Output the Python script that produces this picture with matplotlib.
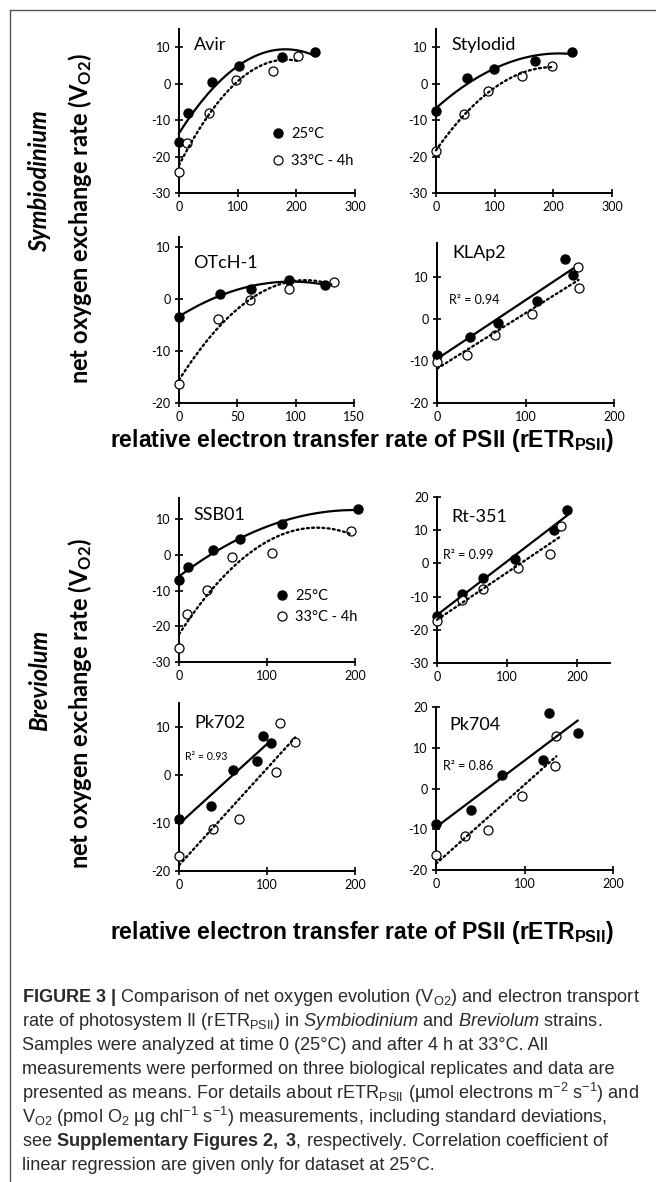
import matplotlib
matplotlib.use("Agg")
import matplotlib.pyplot as plt
import numpy as np
from matplotlib import font_manager
from matplotlib.lines import Line2D

# data (x = rETR, y = V_O2)
strains = ["Avir", "Stylodid", "OTcH-1", "KLAp2", "SSB01", "Rt-351", "Pk702", "Pk704"]
x25 = [[0, 16, 57, 103, 175, 232],
       [0, 53, 99, 168, 231],
       [0, 35, 62, 94, 125],
       [0, 37, 69, 113, 145, 154],
       [0, 10, 39, 69, 117, 203],
       [0, 35, 66, 112, 167, 186],
       [0, 36, 61, 89, 96, 105],
       [0, 39, 75, 121, 128, 160]]
y25 = [[-16.0, -8.0, 0.5, 4.9, 7.2, 8.8],
       [-7.6, 1.6, 4.0, 6.3, 8.8],
       [-3.4, 1.1, 1.9, 3.8, 2.7],
       [-8.6, -4.4, -1.0, 4.3, 14.3, 10.5],
       [-7.1, -3.4, 1.4, 4.6, 8.8, 12.8],
       [-15.8, -9.2, -4.3, 1.2, 10.1, 16.1],
       [-9.1, -6.5, 1.0, 3.0, 8.1, 6.7],
       [-8.8, -5.2, 3.2, 7.0, 18.6, 13.7]]
x33 = [[0, 14, 51, 97, 160, 202],
       [0, 48, 89, 147, 197],
       [0, 33, 61, 94, 133],
       [0, 34, 65, 107, 159, 160],
       [0, 9, 32, 60, 106, 195],
       [0, 35, 65, 115, 161, 177],
       [0, 39, 68, 110, 115, 132],
       [0, 33, 59, 97, 134, 136]]
y33 = [[-24.3, -16.3, -8.1, 1.1, 3.6, 7.6],
       [-18.5, -8.4, -1.9, 2.1, 4.9],
       [-16.4, -3.9, -0.1, 1.9, 3.3],
       [-10.2, -8.6, -3.8, 1.1, 12.3, 7.3],
       [-26.1, -16.5, -9.9, -0.5, 0.6, 6.7],
       [-17.3, -10.9, -7.7, -1.5, 2.9, 11.3],
       [-16.9, -11.3, -9.2, 0.6, 10.8, 6.8],
       [-16.3, -11.6, -10.3, -1.9, 5.4, 12.9]]
fit_order = [2, 2, 2, 1, 2, 1, 1, 1]
r2_text = [None, None, None, "R² = 0.94", None, "R² = 0.99", "R² = 0.93", "R² = 0.86"]
xlims = [300, 300, 150, 200, 200, 247, 200, 200]
xticks = [[0, 100, 200, 300], [0, 100, 200, 300], [0, 50, 100, 150], [0, 100, 200],
          [0, 100, 200], [0, 100, 200], [0, 100, 200], [0, 100, 200]]
ylims = [(-30, 15), (-30, 15), (-20, 12), (-20, 18), (-30, 16), (-30, 20), (-20, 15), (-20, 20)]
legend_labels = ["25°C", "33°C - 4h"]

caption = [
    r"$\mathbf{FIGURE\ 3\ |}$ Comparison of net oxygen evolution (V$_{\mathrm{O2}}$) and electron transport",
    r"rate of photosystem II (rETR$_{\mathrm{PSII}}$) in $\mathit{Symbiodinium}$ and $\mathit{Breviolum}$ strains.",
    r"Samples were analyzed at time 0 (25°C) and after 4 h at 33°C. All",
    r"measurements were performed on three biological replicates and data are",
    r"presented as means. For details about rETR$_{\mathrm{PSII}}$ (µmol electrons m$^{-2}$ s$^{-1}$) and",
    r"V$_{\mathrm{O2}}$ (pmol O$_{\mathrm{2}}$ µg chl$^{-1}$ s$^{-1}$) measurements, including standard deviations,",
    r"see $\mathbf{Supplementary\ Figures\ 2,\ 3}$, respectively. Correlation coefficient of",
    r"linear regression are given only for dataset at 25°C.",
]

names = {f.name for f in font_manager.fontManager.ttflist}
narrow = "Liberation Sans Narrow" in names
cap_font = "Liberation Sans Narrow" if narrow else "Liberation Sans"
cap_size = 15.9 if narrow else 13.1

plt.rcParams["axes.unicode_minus"] = False
plt.rcParams["font.family"] = ["Lato", "DejaVu Sans"]
plt.rcParams["mathtext.fontset"] = "custom"
plt.rcParams["mathtext.rm"] = cap_font
plt.rcParams["mathtext.it"] = cap_font + ":italic"
plt.rcParams["mathtext.bf"] = cap_font + ":bold"

W, H = 656, 1182
fig = plt.figure(figsize=(W / 100, H / 100), dpi=100)


def px(x, y):
    return x / W, 1 - y / H


# axes boxes in pixels: left, right, top, bottom
boxes = [(179, 355, 29, 193), (436, 612, 29, 193),
         (179, 354, 237, 403), (437, 614, 243, 403),
         (179, 355, 498, 662), (437, 610, 497, 663),
         (179, 355, 703, 871), (436, 613, 707, 870)]
title_pos = [(194, 45), (451, 45), (193, 263), (452, 253),
             (193, 515), (451, 517), (194, 723), (449, 725)]
r2_pos = [None, None, None, (449, 300), None, (443, 555), (185, 756), (443, 766)]
r2_size = [0, 0, 0, 9, 0, 9, 7.6, 9]

for i in range(8):
    l, r, t, b = boxes[i]
    ax = fig.add_axes([l / W, 1 - b / H, (r - l) / W, (b - t) / H])
    ax.set_xlim(0, xlims[i])
    ax.set_ylim(*ylims[i])
    for s in ["top", "right"]:
        ax.spines[s].set_visible(False)
    for s in ["left", "bottom"]:
        ax.spines[s].set_linewidth(1.4)
    ax.set_xticks(xticks[i])
    ax.set_yticks(np.arange(ylims[i][0], ylims[i][1] + 0.1, 10))
    ax.tick_params(direction="inout", length=6, width=1.2, labelsize=9, pad=3)
    ax.patch.set_visible(False)

    xa, ya = np.array(x25[i]), np.array(y25[i])
    xb, yb = np.array(x33[i]), np.array(y33[i])
    h1, = ax.plot(xa, ya, "o", ms=6.5, color="black", clip_on=False, zorder=3)
    h2, = ax.plot(xb, yb, "o", ms=6.5, mfc="white", mec="black", mew=0.9, clip_on=False, zorder=3)

    k = fit_order[i]
    ca = np.polyfit(xa, ya, k)
    cb = np.polyfit(xb, yb, k)
    ga = np.linspace(0, xa.max(), 100)
    gb = np.linspace(0, xb.max(), 100)
    ax.plot(ga, np.polyval(ca, ga), "-", color="black", lw=1.6, clip_on=False, zorder=4)
    ax.plot(gb, np.polyval(cb, gb), color="black", lw=1.7, linestyle=(0, (0.8, 1.4)),
            dash_capstyle="round", clip_on=False, zorder=4)

    fig.text(*px(*title_pos[i]), strains[i], fontsize=13, va="center", ha="left")
    if r2_text[i]:
        fig.text(*px(*r2_pos[i]), r2_text[i], fontsize=r2_size[i], va="center", ha="left")

    if i == 0:
        ax.legend([h1, h2], legend_labels, loc="upper left", bbox_to_anchor=(0.49, 0.44),
                  frameon=False, fontsize=10.5, handletextpad=0.4, labelspacing=0.9,
                  handlelength=1.0, borderaxespad=0)
    if i == 4:
        ax.legend([h1, h2], legend_labels, loc="upper left", bbox_to_anchor=(0.51, 0.48),
                  frameon=False, fontsize=10.5, handletextpad=0.4, labelspacing=0.5,
                  handlelength=1.0, borderaxespad=0)

# group labels and axis titles
fig.text(*px(40, 181), "Symbiodinium", rotation=90, fontsize=17, fontstyle="italic",
         fontweight="bold", ha="center", va="center")
fig.text(*px(40, 680), "Breviolum", rotation=90, fontsize=17, fontstyle="italic",
         fontweight="bold", ha="center", va="center")
for yc in [218, 703]:
    fig.text(*px(80, yc), r"net oxygen exchange rate (V$_{\mathregular{O2}}$)", rotation=90,
             fontsize=17, fontweight="bold", ha="center", va="center")
for yc in [440, 932]:
    fig.text(*px(362, yc), r"relative electron transfer rate of PSII (rETR$_{\mathregular{PSII}}$)",
             fontsize=16.6, fontweight="bold", family="Liberation Sans", ha="center", va="center")

# frame lines
fig.add_artist(Line2D([10 / W, 1], [1 - 10 / H, 1 - 10 / H], color="#555555", lw=1))
fig.add_artist(Line2D([10 / W, 10 / W], [1 - 10 / H, 0], color="#555555", lw=1))

for j, line in enumerate(caption):
    fig.text(*px(22, 997 + 24.0 * j), line, fontsize=cap_size, family=cap_font,
             color="#2a2a2a", ha="left", va="center")

fig.savefig("out.png", dpi=100)
